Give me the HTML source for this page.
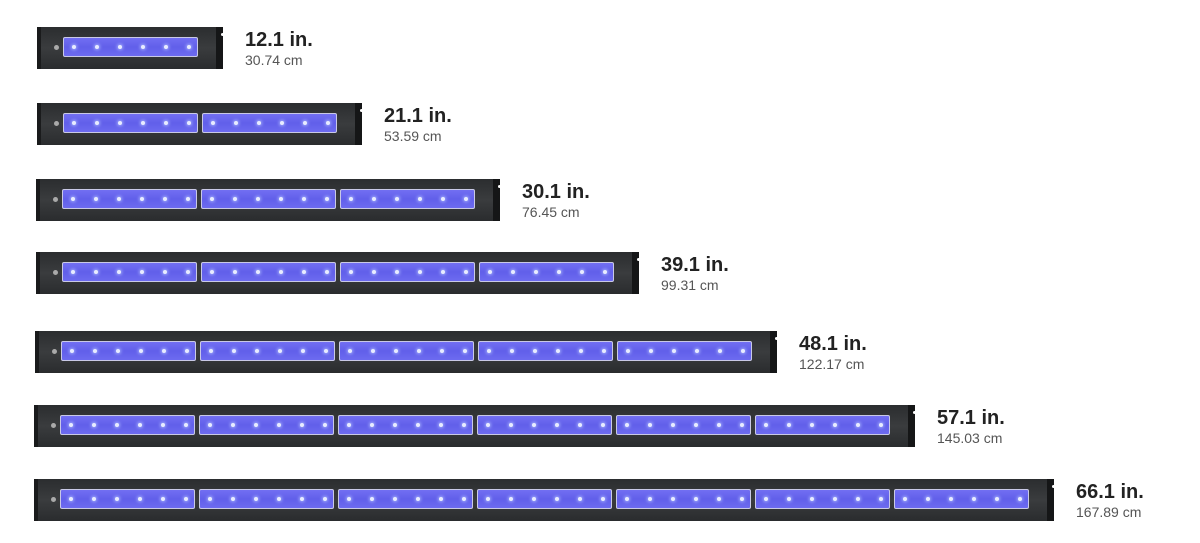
<!DOCTYPE html>
<html><head><style>
body{margin:0;width:1200px;height:543px;background:#fff;position:relative;overflow:hidden;font-family:"Liberation Sans",sans-serif}
.bar{position:absolute;height:42px;background:linear-gradient(#2b2d2f,#3a3c3e 50%,#2a2c2e);border-left:4px solid #1a1b1c;box-sizing:border-box}
.bar .cap{position:absolute;right:0;top:0;width:7px;height:100%;background:#151617}
.bar .cap:after{content:"";position:absolute;right:-1px;top:6px;width:3px;height:3px;background:#fff;border-radius:50%}
.bar .dot{position:absolute;left:13px;top:18px;width:5px;height:5px;border-radius:50%;background:#aaa}
.p{position:absolute;top:10px;width:135px;height:20px;box-sizing:border-box;border:1px solid #c9c9e6;border-radius:2px;background:linear-gradient(#726ff2,#615fea 50%,#6d6bf0)}
.p i{position:absolute;top:7px;width:4px;height:4px;border-radius:50%;background:#e8ecff;box-shadow:0 0 3px 1px #a9b4ff}
.t{position:absolute;color:#222}
.t b{display:block;font-size:20px;line-height:22px;font-weight:bold}
.t span{display:block;font-size:14px;line-height:18px;color:#555}
</style></head><body>
<div id="c"></div>
<script>
var bars=[[37,27,1,"12.1","30.74"],[37,103,2,"21.1","53.59"],[36,179,3,"30.1","76.45"],[36,252,4,"39.1","99.31"],[35,331,5,"48.1","122.17"],[34,405,6,"57.1","145.03"],[34,479,7,"66.1","167.89"]];
var h="";
bars.forEach(function(b){var w=26+b[2]*139-4+25;
h+='<div class="bar" style="left:'+b[0]+'px;top:'+b[1]+'px;width:'+w+'px"><div class="dot"></div>';
for(var k=0;k<b[2];k++){h+='<div class="p" style="left:'+(22+k*139)+'px">';for(var j=0;j<6;j++)h+='<i style="left:'+(8+j*23)+'px"></i>';h+='</div>';}
h+='<div class="cap"></div></div>';
h+='<div class="t" style="left:'+(b[0]+w+22)+'px;top:'+(b[1]+2)+'px"><b>'+b[3]+' in.</b><span>'+b[4]+' cm</span></div>';});
document.getElementById("c").innerHTML=h;
</script>
</body></html>
